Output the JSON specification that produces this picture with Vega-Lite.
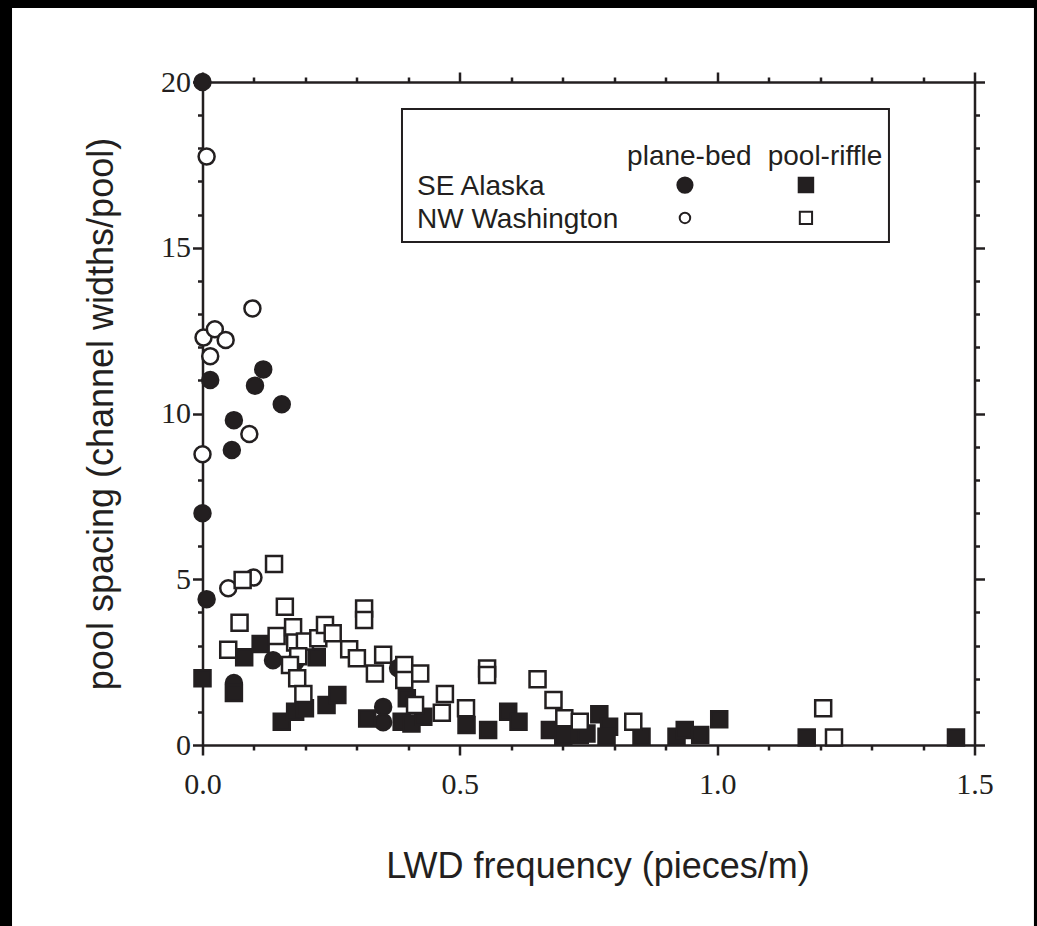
{
  "$schema": "https://vega.github.io/schema/vega-lite/v6.json",
  "width": 772,
  "height": 663,
  "autosize": {"type": "none"},
  "padding": {"left": 202.5, "top": 82, "right": 62.5, "bottom": 181},
  "background": "white",
  "config": {"view": {"stroke": null}, "font": "Liberation Sans"},
  "datasets": {
    "one": [{"item": "frame"}],
    "pts": [
      {"x": 0, "y": 20.0, "region": "SE Alaska", "bed": "plane-bed"},
      {"x": 0.015, "y": 11.01, "region": "SE Alaska", "bed": "plane-bed"},
      {"x": 0.118, "y": 11.33, "region": "SE Alaska", "bed": "plane-bed"},
      {"x": 0.102, "y": 10.84, "region": "SE Alaska", "bed": "plane-bed"},
      {"x": 0.154, "y": 10.28, "region": "SE Alaska", "bed": "plane-bed"},
      {"x": 0.061, "y": 9.8, "region": "SE Alaska", "bed": "plane-bed"},
      {"x": 0.057, "y": 8.9, "region": "SE Alaska", "bed": "plane-bed"},
      {"x": 0, "y": 6.99, "region": "SE Alaska", "bed": "plane-bed"},
      {"x": 0.008, "y": 4.4, "region": "SE Alaska", "bed": "plane-bed"},
      {"x": 0.061, "y": 1.87, "region": "SE Alaska", "bed": "plane-bed"},
      {"x": 0.137, "y": 2.56, "region": "SE Alaska", "bed": "plane-bed"},
      {"x": 0.18, "y": 2.5, "region": "SE Alaska", "bed": "plane-bed"},
      {"x": 0.351, "y": 1.15, "region": "SE Alaska", "bed": "plane-bed"},
      {"x": 0.351, "y": 0.69, "region": "SE Alaska", "bed": "plane-bed"},
      {"x": 0.38, "y": 2.32, "region": "SE Alaska", "bed": "plane-bed"},
      {"x": 0, "y": 2.01, "region": "SE Alaska", "bed": "pool-riffle"},
      {"x": 0.061, "y": 1.57, "region": "SE Alaska", "bed": "pool-riffle"},
      {"x": 0.081, "y": 2.65, "region": "SE Alaska", "bed": "pool-riffle"},
      {"x": 0.113, "y": 3.05, "region": "SE Alaska", "bed": "pool-riffle"},
      {"x": 0.222, "y": 2.65, "region": "SE Alaska", "bed": "pool-riffle"},
      {"x": 0.154, "y": 0.7, "region": "SE Alaska", "bed": "pool-riffle"},
      {"x": 0.18, "y": 1.0, "region": "SE Alaska", "bed": "pool-riffle"},
      {"x": 0.199, "y": 1.11, "region": "SE Alaska", "bed": "pool-riffle"},
      {"x": 0.241, "y": 1.21, "region": "SE Alaska", "bed": "pool-riffle"},
      {"x": 0.262, "y": 1.51, "region": "SE Alaska", "bed": "pool-riffle"},
      {"x": 0.32, "y": 0.8, "region": "SE Alaska", "bed": "pool-riffle"},
      {"x": 0.397, "y": 1.41, "region": "SE Alaska", "bed": "pool-riffle"},
      {"x": 0.387, "y": 0.7, "region": "SE Alaska", "bed": "pool-riffle"},
      {"x": 0.406, "y": 0.65, "region": "SE Alaska", "bed": "pool-riffle"},
      {"x": 0.429, "y": 0.85, "region": "SE Alaska", "bed": "pool-riffle"},
      {"x": 0.513, "y": 0.6, "region": "SE Alaska", "bed": "pool-riffle"},
      {"x": 0.555, "y": 0.45, "region": "SE Alaska", "bed": "pool-riffle"},
      {"x": 0.594, "y": 1.0, "region": "SE Alaska", "bed": "pool-riffle"},
      {"x": 0.614, "y": 0.7, "region": "SE Alaska", "bed": "pool-riffle"},
      {"x": 0.675, "y": 0.45, "region": "SE Alaska", "bed": "pool-riffle"},
      {"x": 0.701, "y": 0.28, "region": "SE Alaska", "bed": "pool-riffle"},
      {"x": 0.733, "y": 0.3, "region": "SE Alaska", "bed": "pool-riffle"},
      {"x": 0.746, "y": 0.35, "region": "SE Alaska", "bed": "pool-riffle"},
      {"x": 0.771, "y": 0.93, "region": "SE Alaska", "bed": "pool-riffle"},
      {"x": 0.79, "y": 0.55, "region": "SE Alaska", "bed": "pool-riffle"},
      {"x": 0.785, "y": 0.25, "region": "SE Alaska", "bed": "pool-riffle"},
      {"x": 0.853, "y": 0.25, "region": "SE Alaska", "bed": "pool-riffle"},
      {"x": 0.921, "y": 0.25, "region": "SE Alaska", "bed": "pool-riffle"},
      {"x": 0.937, "y": 0.45, "region": "SE Alaska", "bed": "pool-riffle"},
      {"x": 0.967, "y": 0.3, "region": "SE Alaska", "bed": "pool-riffle"},
      {"x": 1.004, "y": 0.78, "region": "SE Alaska", "bed": "pool-riffle"},
      {"x": 1.174, "y": 0.23, "region": "SE Alaska", "bed": "pool-riffle"},
      {"x": 1.464, "y": 0.23, "region": "SE Alaska", "bed": "pool-riffle"},
      {"x": 0.008, "y": 17.75, "region": "NW Washington", "bed": "plane-bed"},
      {"x": 0.002, "y": 12.29, "region": "NW Washington", "bed": "plane-bed"},
      {"x": 0.024, "y": 12.54, "region": "NW Washington", "bed": "plane-bed"},
      {"x": 0.045, "y": 12.22, "region": "NW Washington", "bed": "plane-bed"},
      {"x": 0.015, "y": 11.73, "region": "NW Washington", "bed": "plane-bed"},
      {"x": 0.097, "y": 13.17, "region": "NW Washington", "bed": "plane-bed"},
      {"x": 0.091, "y": 9.38, "region": "NW Washington", "bed": "plane-bed"},
      {"x": 0, "y": 8.77, "region": "NW Washington", "bed": "plane-bed"},
      {"x": 0.05, "y": 4.73, "region": "NW Washington", "bed": "plane-bed"},
      {"x": 0.099, "y": 5.05, "region": "NW Washington", "bed": "plane-bed"},
      {"x": 0.139, "y": 5.46, "region": "NW Washington", "bed": "pool-riffle"},
      {"x": 0.078, "y": 4.98, "region": "NW Washington", "bed": "pool-riffle"},
      {"x": 0.16, "y": 4.17, "region": "NW Washington", "bed": "pool-riffle"},
      {"x": 0.072, "y": 3.69, "region": "NW Washington", "bed": "pool-riffle"},
      {"x": 0.05, "y": 2.87, "region": "NW Washington", "bed": "pool-riffle"},
      {"x": 0.144, "y": 3.29, "region": "NW Washington", "bed": "pool-riffle"},
      {"x": 0.176, "y": 3.55, "region": "NW Washington", "bed": "pool-riffle"},
      {"x": 0.18, "y": 3.09, "region": "NW Washington", "bed": "pool-riffle"},
      {"x": 0.199, "y": 3.12, "region": "NW Washington", "bed": "pool-riffle"},
      {"x": 0.186, "y": 2.68, "region": "NW Washington", "bed": "pool-riffle"},
      {"x": 0.17, "y": 2.41, "region": "NW Washington", "bed": "pool-riffle"},
      {"x": 0.184, "y": 2.01, "region": "NW Washington", "bed": "pool-riffle"},
      {"x": 0.196, "y": 1.54, "region": "NW Washington", "bed": "pool-riffle"},
      {"x": 0.225, "y": 3.22, "region": "NW Washington", "bed": "pool-riffle"},
      {"x": 0.238, "y": 3.62, "region": "NW Washington", "bed": "pool-riffle"},
      {"x": 0.253, "y": 3.37, "region": "NW Washington", "bed": "pool-riffle"},
      {"x": 0.285, "y": 2.89, "region": "NW Washington", "bed": "pool-riffle"},
      {"x": 0.3, "y": 2.62, "region": "NW Washington", "bed": "pool-riffle"},
      {"x": 0.314, "y": 4.12, "region": "NW Washington", "bed": "pool-riffle"},
      {"x": 0.314, "y": 3.77, "region": "NW Washington", "bed": "pool-riffle"},
      {"x": 0.335, "y": 2.16, "region": "NW Washington", "bed": "pool-riffle"},
      {"x": 0.351, "y": 2.72, "region": "NW Washington", "bed": "pool-riffle"},
      {"x": 0.392, "y": 2.41, "region": "NW Washington", "bed": "pool-riffle"},
      {"x": 0.392, "y": 1.96, "region": "NW Washington", "bed": "pool-riffle"},
      {"x": 0.423, "y": 2.16, "region": "NW Washington", "bed": "pool-riffle"},
      {"x": 0.471, "y": 1.54, "region": "NW Washington", "bed": "pool-riffle"},
      {"x": 0.465, "y": 0.97, "region": "NW Washington", "bed": "pool-riffle"},
      {"x": 0.512, "y": 1.11, "region": "NW Washington", "bed": "pool-riffle"},
      {"x": 0.413, "y": 1.21, "region": "NW Washington", "bed": "pool-riffle"},
      {"x": 0.553, "y": 2.31, "region": "NW Washington", "bed": "pool-riffle"},
      {"x": 0.553, "y": 2.11, "region": "NW Washington", "bed": "pool-riffle"},
      {"x": 0.651, "y": 1.98, "region": "NW Washington", "bed": "pool-riffle"},
      {"x": 0.682, "y": 1.36, "region": "NW Washington", "bed": "pool-riffle"},
      {"x": 0.703, "y": 0.81, "region": "NW Washington", "bed": "pool-riffle"},
      {"x": 0.733, "y": 0.7, "region": "NW Washington", "bed": "pool-riffle"},
      {"x": 0.837, "y": 0.7, "region": "NW Washington", "bed": "pool-riffle"},
      {"x": 1.206, "y": 1.11, "region": "NW Washington", "bed": "pool-riffle"},
      {"x": 1.227, "y": 0.23, "region": "NW Washington", "bed": "pool-riffle"}
    ]
  },
  "layer": [
    {
      "data": {"name": "one"},
      "mark": {"type": "rect", "fill": "black", "stroke": null},
      "encoding": {
        "x": {"datum": -0.41, "type": "quantitative", "scale": {"domain": [0, 1.5], "nice": false, "zero": false}, "axis": null},
        "x2": {"datum": -0.3701},
        "y": {"datum": 23, "type": "quantitative", "scale": {"domain": [0, 20], "nice": false, "zero": false}, "axis": null},
        "y2": {"datum": -6}
      }
    },
    {
      "data": {"name": "one"},
      "mark": {"type": "rect", "fill": "black", "stroke": null},
      "encoding": {
        "x": {"datum": -0.41, "type": "quantitative", "scale": {"domain": [0, 1.5], "nice": false, "zero": false}, "axis": null},
        "x2": {"datum": 1.64},
        "y": {"datum": 23, "type": "quantitative", "scale": {"domain": [0, 20], "nice": false, "zero": false}, "axis": null},
        "y2": {"datum": 22.23}
      }
    },
    {
      "data": {"name": "one"},
      "mark": {"type": "rect", "fill": "black", "stroke": null},
      "encoding": {
        "x": {"datum": 1.6155, "type": "quantitative", "scale": {"domain": [0, 1.5], "nice": false, "zero": false}, "axis": null},
        "x2": {"datum": 1.64},
        "y": {"datum": 23, "type": "quantitative", "scale": {"domain": [0, 20], "nice": false, "zero": false}, "axis": null},
        "y2": {"datum": -6}
      }
    },
    {
      "data": {"name": "pts"},
      "mark": {"type": "point", "filled": true, "size": 256, "stroke": "#231f20", "strokeWidth": 2.5, "opacity": 1},
      "encoding": {
        "x": {
          "field": "x", "type": "quantitative",
          "scale": {"domain": [0, 1.5], "nice": false, "zero": false},
          "axis": {
            "orient": "bottom",
            "title": "LWD frequency (pieces/m)",
            "titleX": 395,
            "values": [0, 0.1, 0.2, 0.3, 0.4, 0.5, 0.6, 0.7, 0.8, 0.9, 1, 1.1, 1.2, 1.3, 1.4, 1.5],
            "labelExpr": "datum.value % 0.5 === 0 ? format(datum.value, '.1f') : ''",
            "labelOverlap": false,
            "labelFlush": false,
            "labelFont": "Liberation Serif",
            "labelFontSize": 30,
            "labelColor": "#231f20",
            "labelPadding": 14,
            "tickSize": {"condition": {"test": "datum.value % 0.5 === 0", "value": 10}, "value": 5},
            "tickWidth": 2.5,
            "tickColor": "#231f20",
            "domainColor": "#231f20",
            "domainWidth": 2.5,
            "grid": false,
            "titleFont": "Liberation Sans",
            "titleFontSize": 36,
            "titleFontWeight": "normal",
            "titleColor": "#231f20",
            "titlePadding": 50
          }
        },
        "y": {
          "field": "y", "type": "quantitative",
          "scale": {"domain": [0, 20], "nice": false, "zero": false},
          "axis": {
            "orient": "left",
            "title": "pool spacing (channel widths/pool)",
            "values": [0, 1, 2, 3, 4, 5, 6, 7, 8, 9, 10, 11, 12, 13, 14, 15, 16, 17, 18, 19, 20],
            "labelExpr": "datum.value % 5 === 0 ? format(datum.value, 'd') : ''",
            "labelOverlap": false,
            "labelFlush": false,
            "labelFont": "Liberation Serif",
            "labelFontSize": 30,
            "labelColor": "#231f20",
            "labelPadding": 2,
            "tickSize": {"condition": {"test": "datum.value % 5 === 0", "value": 10}, "value": 5},
            "tickWidth": 2.5,
            "tickColor": "#231f20",
            "domainColor": "#231f20",
            "domainWidth": 2.5,
            "grid": false,
            "titleFont": "Liberation Sans",
            "titleFontSize": 36,
            "titleFontWeight": "normal",
            "titleColor": "#231f20",
            "titlePadding": 40
          }
        },
        "shape": {"field": "bed", "type": "nominal", "scale": {"domain": ["plane-bed", "pool-riffle"], "range": ["circle", "square"]}, "legend": null},
        "fill": {"field": "region", "type": "nominal", "scale": {"domain": ["SE Alaska", "NW Washington"], "range": ["#231f20", "white"]}, "legend": null}
      }
    },
    {
      "data": {"name": "one"},
      "mark": {"type": "rect", "fill": "white", "stroke": "#231f20", "strokeWidth": 2},
      "encoding": {
        "x": {
          "datum": 0.3876, "type": "quantitative",
          "scale": {"domain": [0, 1.5], "nice": false, "zero": false},
          "axis": {
            "orient": "top", "title": null, "labels": false,
            "values": [0, 0.1, 0.2, 0.3, 0.4, 0.5, 0.6, 0.7, 0.8, 0.9, 1, 1.1, 1.2, 1.3, 1.4, 1.5],
            "tickSize": {"condition": {"test": "datum.value % 0.5 === 0", "value": 10}, "value": 5},
            "tickWidth": 2.5, "tickColor": "#231f20", "domainColor": "#231f20", "domainWidth": 2.5, "grid": false
          }
        },
        "x2": {"datum": 1.3338},
        "y": {
          "datum": 19.186, "type": "quantitative",
          "scale": {"domain": [0, 20], "nice": false, "zero": false},
          "axis": {
            "orient": "right", "title": null, "labels": false,
            "values": [0, 1, 2, 3, 4, 5, 6, 7, 8, 9, 10, 11, 12, 13, 14, 15, 16, 17, 18, 19, 20],
            "tickSize": {"condition": {"test": "datum.value % 5 === 0", "value": 10}, "value": 5},
            "tickWidth": 2.5, "tickColor": "#231f20", "domainColor": "#231f20", "domainWidth": 2.5, "grid": false
          }
        },
        "y2": {"datum": 15.173}
      }
    },
    {
      "data": {"name": "one"},
      "mark": {"type": "text", "text": "plane-bed", "align": "center", "baseline": "alphabetic", "font": "Liberation Sans", "fontSize": 28, "color": "#231f20"},
      "encoding": {
        "x": {"datum": 0.946, "type": "quantitative", "scale": {"domain": [0, 1.5], "nice": false, "zero": false}, "axis": null},
        "y": {"datum": 17.5, "type": "quantitative", "scale": {"domain": [0, 20], "nice": false, "zero": false}, "axis": null}
      }
    },
    {
      "data": {"name": "one"},
      "mark": {"type": "text", "text": "pool-riffle", "align": "center", "baseline": "alphabetic", "font": "Liberation Sans", "fontSize": 28, "color": "#231f20"},
      "encoding": {
        "x": {"datum": 1.2095, "type": "quantitative", "scale": {"domain": [0, 1.5], "nice": false, "zero": false}, "axis": null},
        "y": {"datum": 17.5, "type": "quantitative", "scale": {"domain": [0, 20], "nice": false, "zero": false}, "axis": null}
      }
    },
    {
      "data": {"name": "one"},
      "mark": {"type": "text", "text": "SE Alaska", "align": "left", "baseline": "alphabetic", "font": "Liberation Sans", "fontSize": 28, "color": "#231f20"},
      "encoding": {
        "x": {"datum": 0.4168, "type": "quantitative", "scale": {"domain": [0, 1.5], "nice": false, "zero": false}, "axis": null},
        "y": {"datum": 16.59, "type": "quantitative", "scale": {"domain": [0, 20], "nice": false, "zero": false}, "axis": null}
      }
    },
    {
      "data": {"name": "one"},
      "mark": {"type": "text", "text": "NW Washington", "align": "left", "baseline": "alphabetic", "font": "Liberation Sans", "fontSize": 28, "color": "#231f20"},
      "encoding": {
        "x": {"datum": 0.4168, "type": "quantitative", "scale": {"domain": [0, 1.5], "nice": false, "zero": false}, "axis": null},
        "y": {"datum": 15.6, "type": "quantitative", "scale": {"domain": [0, 20], "nice": false, "zero": false}, "axis": null}
      }
    },
    {
      "data": {"name": "one"},
      "mark": {"type": "point", "shape": "circle", "filled": true, "fill": "#231f20", "stroke": "#231f20", "strokeWidth": 2, "size": 230, "opacity": 1},
      "encoding": {
        "x": {"datum": 0.9374, "type": "quantitative", "scale": {"domain": [0, 1.5], "nice": false, "zero": false}, "axis": null},
        "y": {"datum": 16.89, "type": "quantitative", "scale": {"domain": [0, 20], "nice": false, "zero": false}, "axis": null}
      }
    },
    {
      "data": {"name": "one"},
      "mark": {"type": "point", "shape": "square", "filled": true, "fill": "#231f20", "stroke": "#231f20", "strokeWidth": 2, "size": 210, "opacity": 1},
      "encoding": {
        "x": {"datum": 1.1725, "type": "quantitative", "scale": {"domain": [0, 1.5], "nice": false, "zero": false}, "axis": null},
        "y": {"datum": 16.89, "type": "quantitative", "scale": {"domain": [0, 20], "nice": false, "zero": false}, "axis": null}
      }
    },
    {
      "data": {"name": "one"},
      "mark": {"type": "point", "shape": "circle", "filled": true, "fill": "white", "stroke": "#231f20", "strokeWidth": 2, "size": 110, "opacity": 1},
      "encoding": {
        "x": {"datum": 0.9374, "type": "quantitative", "scale": {"domain": [0, 1.5], "nice": false, "zero": false}, "axis": null},
        "y": {"datum": 15.9, "type": "quantitative", "scale": {"domain": [0, 20], "nice": false, "zero": false}, "axis": null}
      }
    },
    {
      "data": {"name": "one"},
      "mark": {"type": "point", "shape": "square", "filled": true, "fill": "white", "stroke": "#231f20", "strokeWidth": 2, "size": 150, "opacity": 1},
      "encoding": {
        "x": {"datum": 1.1725, "type": "quantitative", "scale": {"domain": [0, 1.5], "nice": false, "zero": false}, "axis": null},
        "y": {"datum": 15.9, "type": "quantitative", "scale": {"domain": [0, 20], "nice": false, "zero": false}, "axis": null}
      }
    }
  ],
  "resolve": {"axis": {"x": "independent", "y": "independent"}}
}
